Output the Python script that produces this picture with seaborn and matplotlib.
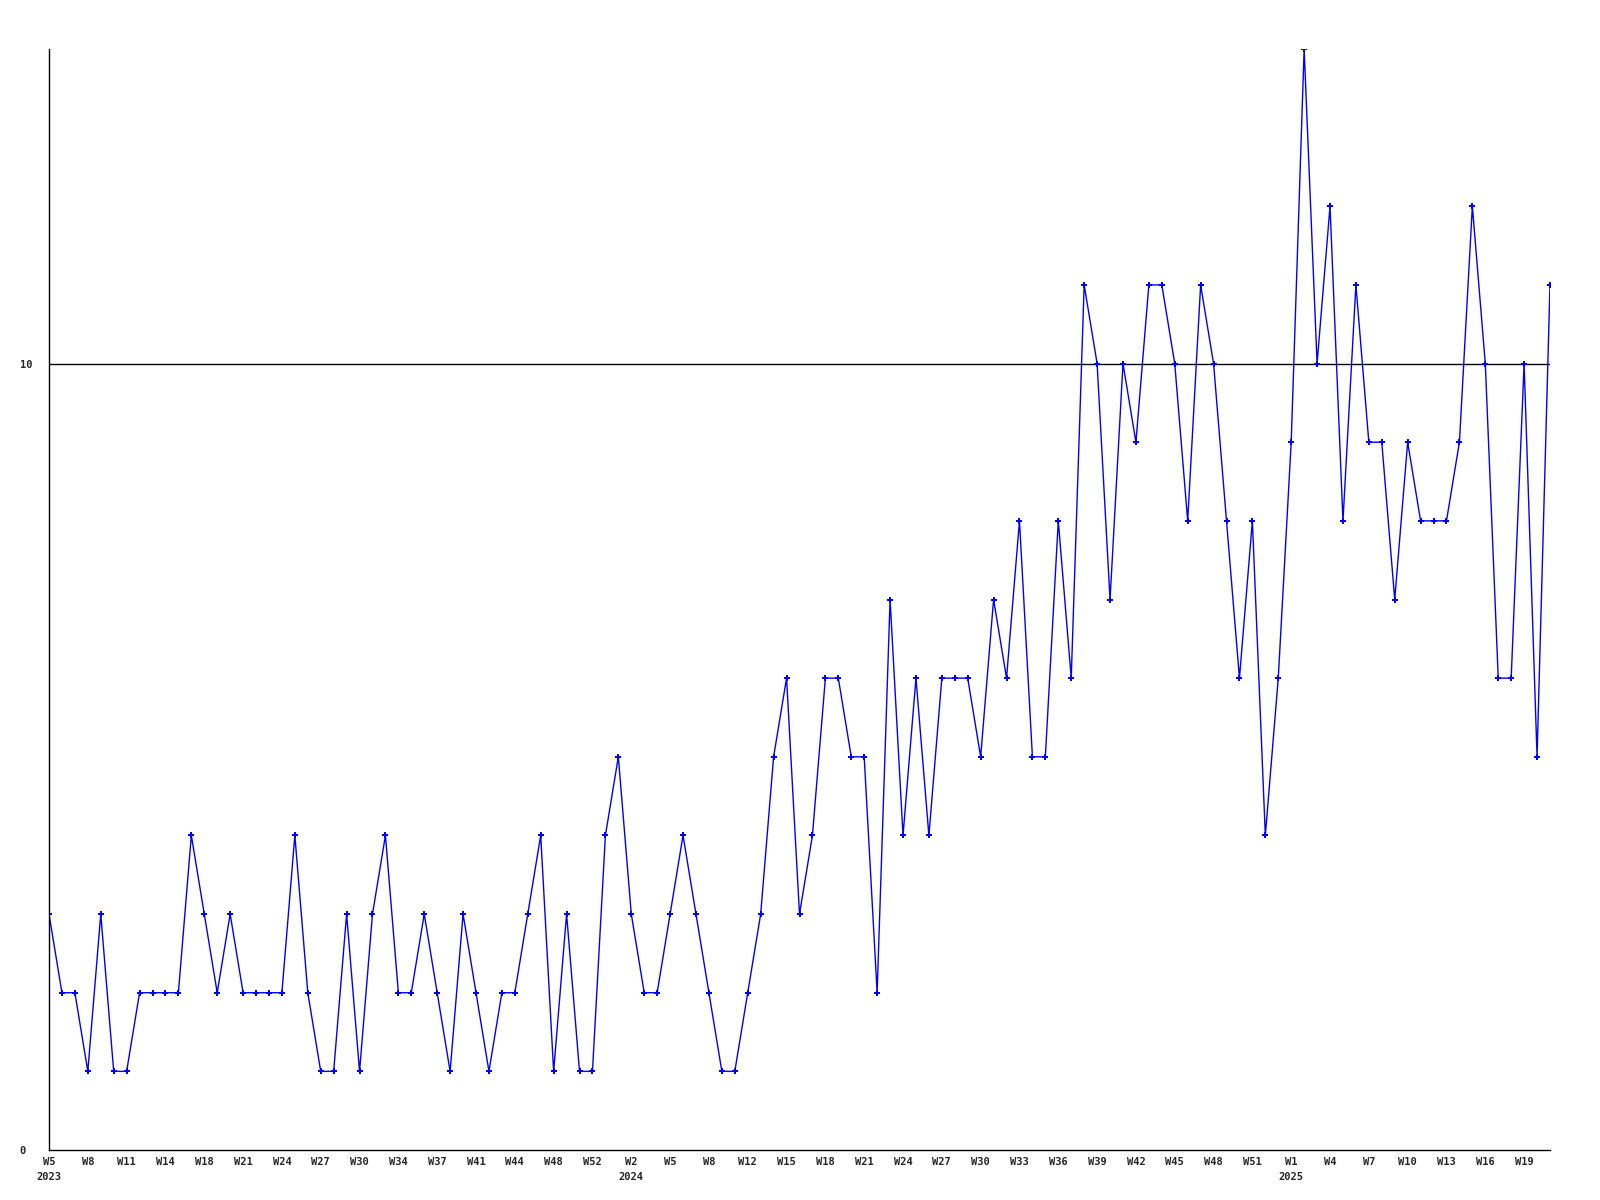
import pandas as pd
import matplotlib
matplotlib.use("Agg")
import matplotlib.pyplot as plt
import seaborn as sns

# weekly counts, 2023 W5 .. 2025 (one value per plotted week)
valores = [3, 2, 2, 1, 3, 1, 1, 2, 2, 2, 2, 4, 3, 2, 3, 2, 2, 2, 2, 4,
           2, 1, 1, 3, 1, 3, 4, 2, 2, 3, 2, 1, 3, 2, 1, 2, 2, 3, 4, 1,
           3, 1, 1, 4, 5, 3, 2, 2, 3, 4, 3, 2, 1, 1, 2, 3, 5, 6, 3, 4,
           6, 6, 5, 5, 2, 7, 4, 6, 4, 6, 6, 6, 5, 7, 6, 8, 5, 5, 8, 6,
           11, 10, 7, 10, 9, 11, 11, 10, 8, 11, 10, 8, 6, 8, 4, 6, 9, 14, 10, 12,
           8, 11, 9, 9, 7, 9, 8, 8, 8, 9, 12, 10, 6, 6, 10, 5, 11]

# one label every third week
rotulos = ['W5\n2023', 'W8', 'W11', 'W14', 'W18', 'W21', 'W24', 'W27', 'W30',
           'W34', 'W37', 'W41', 'W44', 'W48', 'W52', 'W2\n2024', 'W5', 'W8',
           'W12', 'W15', 'W18', 'W21', 'W24', 'W27', 'W30', 'W33', 'W36',
           'W39', 'W42', 'W45', 'W48', 'W51', 'W1\n2025', 'W4', 'W7', 'W10',
           'W13', 'W16', 'W19']

df = pd.DataFrame({'semana': range(len(valores)), 'valor': valores})

sns.set_theme(style="white")
plt.rcParams['font.family'] = ['DejaVu Sans Mono']
plt.rcParams['font.weight'] = 'bold'

fig, ax = plt.subplots(figsize=(16, 12), dpi=100)
fig.subplots_adjust(left=49/1600, right=1550/1600, top=1 - 49/1200, bottom=1 - 1150/1200)

sns.lineplot(data=df, x='semana', y='valor', color='#0000ff', linewidth=1.0,
             marker='P', markersize=4, markeredgewidth=0, ax=ax)

ax.set_xlim(0, len(valores) - 1)
ax.set_ylim(0, 14)
ax.set_xticks(range(0, len(valores), 3))
ax.set_xticklabels(rotulos, fontsize=7.5, fontweight='bold', linespacing=1.6)
ax.set_yticks([0, 10])
ax.set_yticklabels(['0', '10'], fontsize=7.5, fontweight='bold', ha='left')
ax.tick_params(axis='x', length=0, pad=5)
ax.tick_params(axis='y', length=0, pad=21)
ax.set_xlabel('')
ax.set_ylabel('')

ax.axhline(10, color='black', linewidth=1.0, zorder=1)

for lado in ['top', 'right']:
    ax.spines[lado].set_visible(False)
for lado in ['left', 'bottom']:
    ax.spines[lado].set_color('black')
    ax.spines[lado].set_linewidth(1.0)

plt.savefig('out.png', dpi=100)
